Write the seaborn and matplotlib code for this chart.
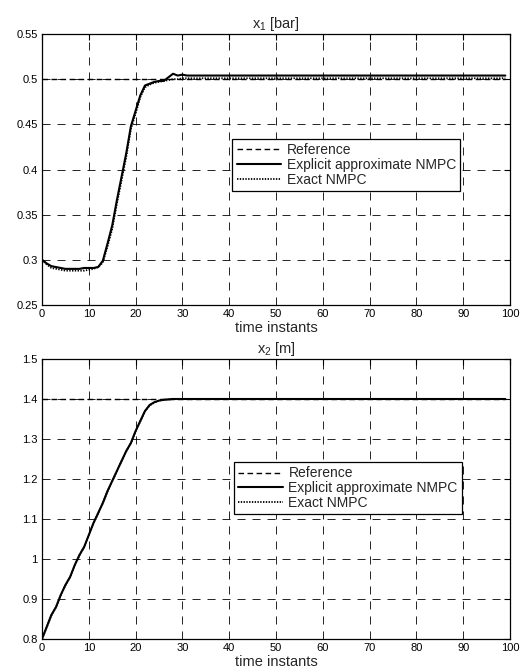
import numpy as np
import pandas as pd
import seaborn as sns
import matplotlib
matplotlib.use("Agg")
import matplotlib.pyplot as plt

# time axis
t = list(range(100))

# x1 [bar] trajectories (first 31 samples then flat)
x1_ref = [0.5] * 100
x1_explicit = [0.300, 0.296, 0.293, 0.292, 0.291, 0.290, 0.290, 0.290, 0.290, 0.291,
               0.291, 0.291, 0.292, 0.299, 0.318, 0.338, 0.366, 0.392, 0.418, 0.448,
               0.465, 0.482, 0.493, 0.495, 0.497, 0.498, 0.498, 0.502, 0.506, 0.504,
               0.505] + [0.504] * 69
x1_exact = [0.300, 0.295, 0.291, 0.290, 0.289, 0.288, 0.288, 0.288, 0.288, 0.288,
            0.289, 0.290, 0.292, 0.297, 0.315, 0.334, 0.362, 0.388, 0.414, 0.445,
            0.462, 0.480, 0.491, 0.494, 0.496, 0.497, 0.498, 0.499, 0.500, 0.500,
            0.501] + [0.501] * 69

# x2 [m] trajectories
x2_ref = [1.4] * 100
x2_explicit = [0.800, 0.830, 0.860, 0.880, 0.910, 0.935, 0.955, 0.985, 1.010, 1.030,
               1.060, 1.090, 1.115, 1.140, 1.170, 1.195, 1.220, 1.245, 1.270, 1.290,
               1.320, 1.345, 1.370, 1.385, 1.392, 1.396, 1.398, 1.399, 1.400, 1.400,
               1.400] + [1.400] * 69
x2_exact = [0.800, 0.829, 0.859, 0.880, 0.909, 0.934, 0.955, 0.984, 1.009, 1.030,
            1.059, 1.089, 1.114, 1.140, 1.169, 1.194, 1.220, 1.245, 1.269, 1.290,
            1.319, 1.344, 1.369, 1.384, 1.391, 1.396, 1.398, 1.399, 1.400, 1.400,
            1.400] + [1.400] * 69

xticks = list(range(0, 101, 10))
x1_yticks = [0.25, 0.3, 0.35, 0.4, 0.45, 0.5, 0.55]
x1_ylabels = ['0.25', '0.3', '0.35', '0.4', '0.45', '0.5', '0.55']
x2_yticks = [0.8, 0.9, 1.0, 1.1, 1.2, 1.3, 1.4, 1.5]
x2_ylabels = ['0.8', '0.9', '1', '1.1', '1.2', '1.3', '1.4', '1.5']

labels = ['Reference', 'Explicit approximate NMPC', 'Exact NMPC']

sns.set_style('white')
plt.rcParams['font.family'] = ['Liberation Sans', 'DejaVu Sans']
plt.rcParams['mathtext.fontset'] = 'custom'
plt.rcParams['mathtext.rm'] = 'Liberation Sans'
plt.rcParams['mathtext.it'] = 'Liberation Sans'
plt.rcParams['lines.scale_dashes'] = False

fig = plt.figure(figsize=(5.2, 6.72), dpi=100)
W, H = 520.0, 672.0
ax1 = fig.add_axes([42 / W, 1 - 305 / H, 468 / W, 271 / H])
ax2 = fig.add_axes([42 / W, 1 - 639 / H, 468 / W, 280 / H])


def draw_panel(ax, ref, expl, exact, yticks, ylabels, title, leg_xy):
  df = pd.DataFrame({'t': t, 'ref': ref, 'expl': expl, 'exact': exact})
  sns.lineplot(x='t', y='ref', data=df, ax=ax, color='k', linestyle=(0, (4, 2.5)),
               linewidth=1.0, label=labels[0])
  sns.lineplot(x='t', y='expl', data=df, ax=ax, color='k', linestyle='-',
               linewidth=1.5, label=labels[1])
  sns.lineplot(x='t', y='exact', data=df, ax=ax, color='k', linestyle=(0, (1, 1)),
               linewidth=1.3, label=labels[2])
  ax.set_xlim(0, 100)
  ax.set_ylim(yticks[0], yticks[-1])
  ax.set_xticks(xticks)
  ax.set_xticklabels([str(v) for v in xticks], fontsize=8)
  ax.set_yticks(yticks)
  ax.set_yticklabels(ylabels, fontsize=8)
  ax.tick_params(direction='in', length=4, width=0.8, top=True, right=True,
                 pad=3, colors='k')
  ax.grid(True, color='k', linestyle=(0, (5.8, 5)), linewidth=0.6)
  for s in ax.spines.values():
    s.set_color('k')
    s.set_linewidth(0.9)
  ax.set_xlabel('time instants', fontsize=10.5, labelpad=1)
  ax.set_ylabel('')
  ax.set_title(title, fontsize=10.5, pad=4)
  leg = ax.legend(loc='center', bbox_to_anchor=leg_xy, fontsize=10,
                  handlelength=3.2, handletextpad=0.4, labelspacing=0.05,
                  borderpad=0.3, fancybox=False, framealpha=1, edgecolor='k')
  leg.get_frame().set_linewidth(0.9)


draw_panel(ax1, x1_ref, x1_explicit, x1_exact, x1_yticks, x1_ylabels,
           r'x$_1$ [bar]', (0.65, 0.517))
draw_panel(ax2, x2_ref, x2_explicit, x2_exact, x2_yticks, x2_ylabels,
           r'x$_2$ [m]', (0.654, 0.539))

plt.savefig('out.png', dpi=100)
